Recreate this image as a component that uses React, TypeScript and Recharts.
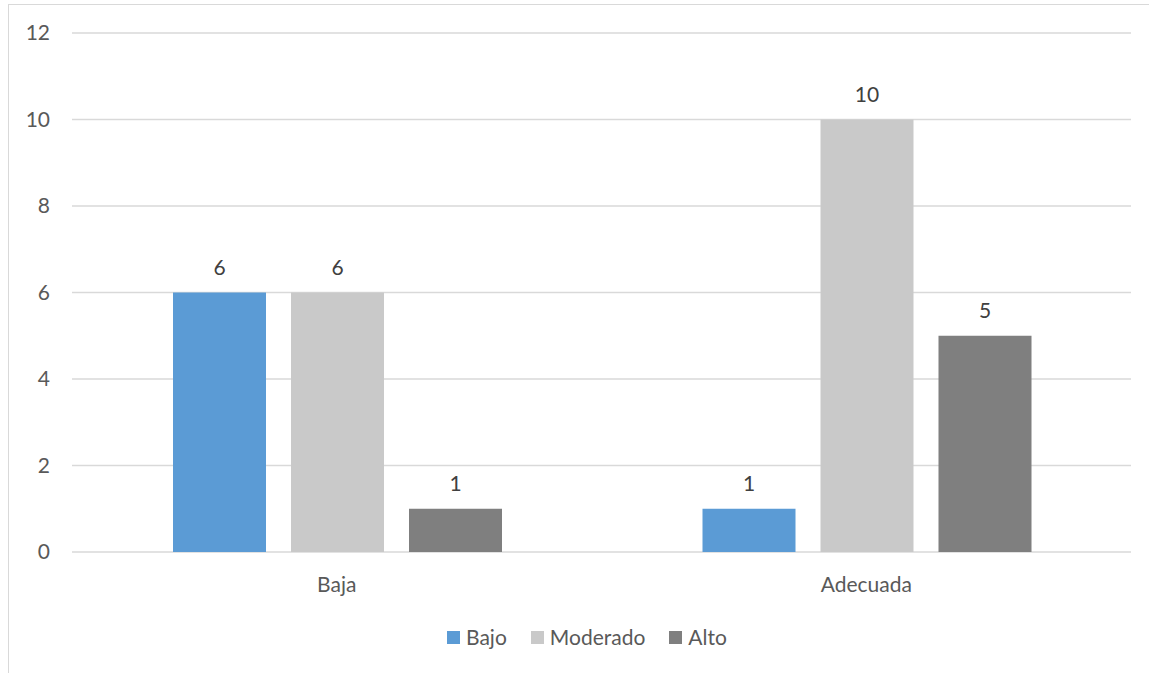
import { BarChart, Bar, XAxis, YAxis, CartesianGrid, Legend, LabelList } from "recharts"

const categories = ["Baja", "Adecuada"]
const bajo = [6, 1]
const moderado = [6, 10]
const alto = [1, 5]
const yTicks = [0, 2, 4, 6, 8, 10, 12]

const series = [
  { key: "bajo", name: "Bajo", color: "#5B9BD5" },
  { key: "moderado", name: "Moderado", color: "#C9C9C9" },
  { key: "alto", name: "Alto", color: "#7F7F7F" },
]

const data = categories.map((category, i) => ({
  category,
  bajo: bajo[i],
  moderado: moderado[i],
  alto: alto[i],
}))

const FONT = "Lato, 'Open Sans', sans-serif"
const FONT_SIZE = 21
const AXIS_TEXT = "#595959"

// legend keeps the series order: flat swatch followed by the name
function renderLegend() {
  return (
    <div style={{ display: "flex", alignItems: "center", fontFamily: FONT, fontSize: FONT_SIZE, color: AXIS_TEXT, lineHeight: "22px" }}>
      {series.map((s) => (
        <div key={s.key} style={{ display: "flex", alignItems: "center", marginRight: 24 }}>
          <span style={{ display: "inline-block", width: 13, height: 13, background: s.color, marginRight: 6 }} />
          <span>{s.name}</span>
        </div>
      ))}
    </div>
  )
}

export default function App() {
  return (
    <div style={{ position: "fixed", left: 0, top: 0, width: 1149, height: 673, background: "#fff", overflow: "hidden" }}>
      <div
        style={{
          position: "absolute",
          left: 8,
          top: 4,
          width: 1160,
          height: 680,
          border: "1px solid #d9d9d9",
          boxSizing: "border-box",
        }}
      />
      <BarChart
        width={1149}
        height={673}
        data={data}
        margin={{ top: 33, right: 18, bottom: 91, left: 12 }}
        barCategoryGap={101}
        barGap={25}
      >
        <CartesianGrid vertical={false} stroke="#d9d9d9" strokeWidth={1.5} />
        <XAxis
          dataKey="category"
          axisLine={false}
          tickLine={false}
          tickSize={0}
          tickMargin={25}
          interval={0}
          tick={{ fill: AXIS_TEXT, fontSize: FONT_SIZE, fontFamily: FONT }}
        />
        <YAxis
          width={60}
          domain={[0, 12]}
          ticks={yTicks}
          axisLine={false}
          tickLine={false}
          tickSize={0}
          tickMargin={22}
          tick={{ fill: AXIS_TEXT, fontSize: FONT_SIZE, fontFamily: FONT }}
        />
        <Legend
          verticalAlign="middle"
          align="center"
          content={renderLegend}
          wrapperStyle={{ top: 626, left: 447, width: 400 }}
        />
        {series.map((s) => (
          <Bar key={s.key} dataKey={s.key} name={s.name} fill={s.color} isAnimationActive={false}>
            <LabelList
              dataKey={s.key}
              position="top"
              offset={18}
              fill="#404040"
              fontSize={FONT_SIZE}
              fontFamily={FONT}
            />
          </Bar>
        ))}
      </BarChart>
    </div>
  )
}
